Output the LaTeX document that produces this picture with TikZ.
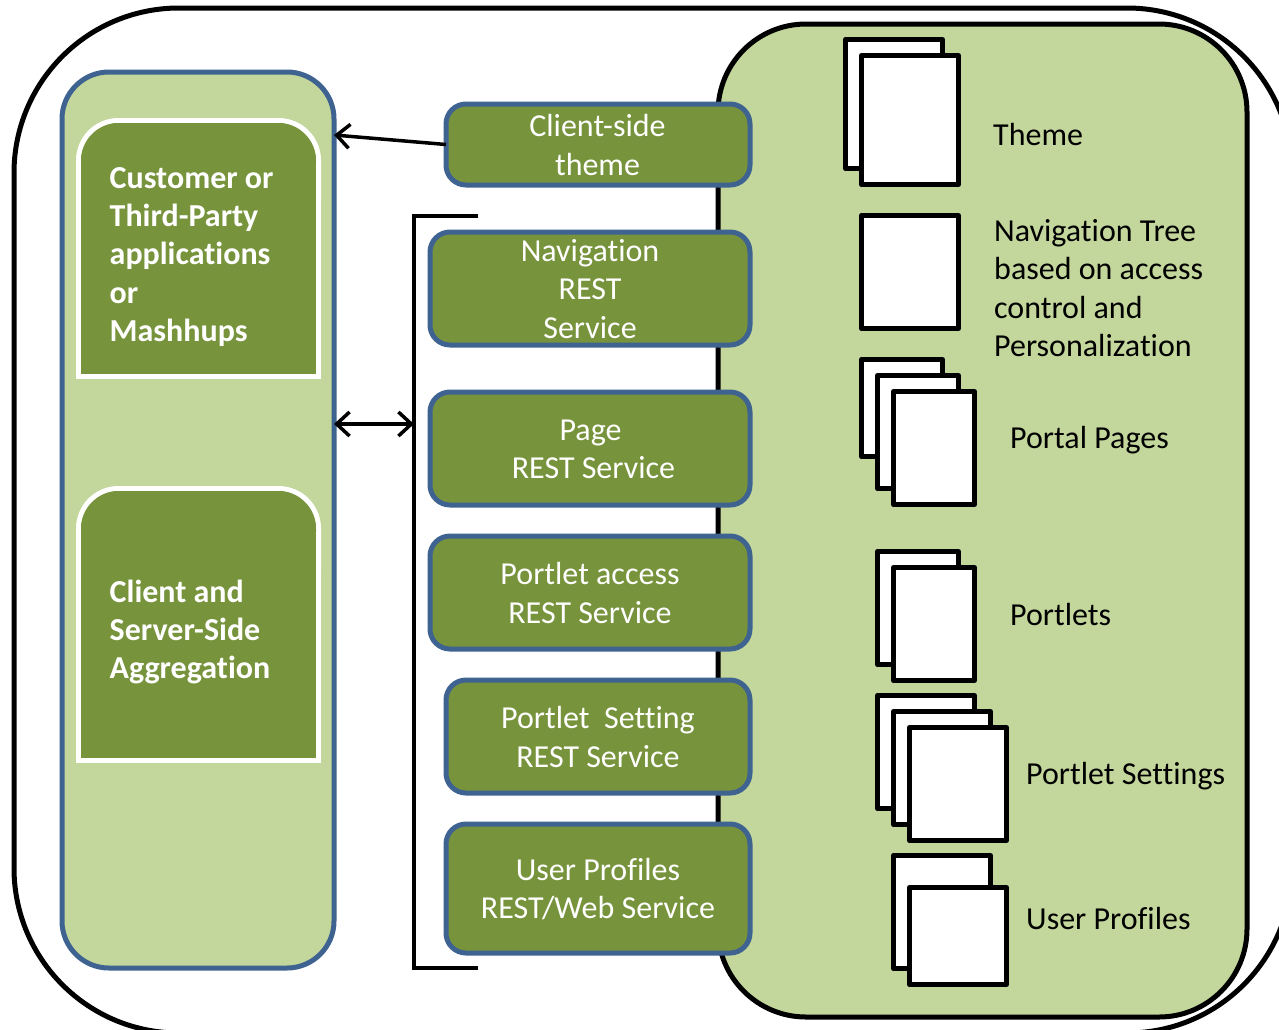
\documentclass[tikz,border=0pt]{standalone}
\usepackage{fontspec}
\setmainfont[Ligatures=NoCommon]{Carlito}
\usetikzlibrary{arrows.meta}

\definecolor{panelgreen}{HTML}{C3D69B}
\definecolor{boxgreen}{HTML}{77933C}
\definecolor{edgeblue}{HTML}{3F6391}

\tikzset{
    panel/.style={draw=edgeblue,line width=5pt,fill=panelgreen,rounded corners=47pt,outer sep=0pt},
    restbox/.style={draw=edgeblue,line width=5pt,fill=boxgreen,rounded corners=20pt,outer sep=0pt,
        text=white,align=center,inner sep=0pt},
    innerbox/.style={draw=white,line width=5pt,fill=boxgreen},
    innertext/.style={text=white,font=\bfseries\fontsize{32}{38.3}\selectfont,align=left,anchor=west,inner sep=0pt},
    docpage/.style={draw=black,line width=5pt,line join=round,fill=white,outer sep=0pt},
    doclabel/.style={text=black,align=left,anchor=west,inner sep=0pt},
    link/.style={draw=black,line width=3.5pt,{Straight Barb[length=13pt,width=24pt,line width=3.5pt]}-},
}

\begin{document}
\begin{tikzpicture}[x=1pt,y=-1pt,font=\fontsize{32}{38.3}\selectfont]

\useasboundingbox (0,0) rectangle (1279,1029);

% Outer frame, cut off by the page.
\begin{scope}
    \clip (0,0) rectangle (1279,1029);
    \draw[line width=5pt,rounded corners=165pt] (14,8) rectangle (1292,1033);
\end{scope}

% Right panel.
\node (right) [draw=black,line width=5pt,fill=panelgreen,rounded corners=88pt,outer sep=0pt,
    minimum width=529pt,minimum height=993pt] at (982.5,520.5) {};

% Left panel.
\node (left) [panel,minimum width=272pt,minimum height=896pt] at (198,520) {};

% Inner boxes, round on top only.
\draw[innerbox,rounded corners=40pt]
    (78.5,200) -- (78.5,120.5) -- (318.5,120.5) -- (318.5,200);
\draw[innerbox]
    (78.5,160) -- (78.5,376.5) -- (318.5,376.5) -- (318.5,160);
\fill[boxgreen,rounded corners=38pt]
    (81,200) -- (81,123) -- (316,123) -- (316,200) -- cycle;
\draw[innerbox,rounded corners=40pt]
    (78.5,570) -- (78.5,488.5) -- (318.5,488.5) -- (318.5,570);
\draw[innerbox]
    (78.5,530) -- (78.5,760.5) -- (318.5,760.5) -- (318.5,530);
\fill[boxgreen,rounded corners=38pt]
    (81,570) -- (81,491) -- (316,491) -- (316,570) -- cycle;

\node (customer) [innertext] at (109.5,257)
    {Customer or\\Third-Party\\applications\\or\\Mashhups};
\node (client) [innertext] at (109.5,632)
    {Client and\\Server-Side\\Aggregation};

% Service boxes.
\node (theme) [restbox,minimum width=304pt,minimum height=81pt] at (598,144.5) {};
\node (nav) [restbox,minimum width=320pt,minimum height=113pt] at (590,288.5) {};
\node (page) [restbox,minimum width=320pt,minimum height=113pt] at (590,448.5) {};
\node (access) [restbox,minimum width=320pt,minimum height=113pt] at (590,592.5) {};
\node (setting) [restbox,minimum width=304pt,minimum height=113pt] at (598,736.5) {};
\node (profile) [restbox,minimum width=304pt,minimum height=129pt] at (598,888.5) {};

% Service labels.
\node (themetext) [text=white,align=center] at (597.5,145) {Client-side\\theme};
\node (navtext) [text=white,align=center] at (590,289) {Navigation\\REST\\Service};
\node (pagetext) [text=white,align=center] at (593.5,449) {\hspace*{-6pt}Page\\REST Service};
\node (accesstext) [text=white,align=center] at (590,593) {Portlet access\\REST Service};
\node (settingtext) [text=white,align=center] at (598,737) {Portlet~ Setting\\REST Service};
\node (profiletext) [text=white,align=center] at (598,889) {User Profiles\\REST/Web Service};

% Bracket round the service boxes.
\coordinate (brackettop) at (478,216);
\coordinate (bracketmid) at (414,424);
\coordinate (bracketbot) at (478,968);
\coordinate (lefttop) at (334,135);
\coordinate (leftmid) at (334,424);
\draw[line width=3.5pt,line join=miter] (brackettop) -| (bracketmid) |- (bracketbot);

% Arrows.
\draw[link] (lefttop) -- (theme.west);
\draw[link,{Straight Barb[length=13pt,width=24pt,line width=3.5pt]}-{Straight Barb[length=13pt,width=24pt,line width=3.5pt]}]
    (leftmid) -- (bracketmid);

% Pages: name/centre x/centre y/width/height.
\foreach \n/\x/\y/\w/\h in {
    themeA/894/104/97/129,themeB/910/120/97/129,
    tree/910/272/97/113,
    pagesA/902/408/81/97,pagesB/918/432/81/113,pagesC/934/448/81/113,
    portA/918/608/81/113,portB/934/624/81/113,
    setA/926/752/97/113,setB/942/768/97/113,setC/958/784/97/113,
    userA/942/912/97/113,userB/958/936/97/97} {
    \node (\n) [docpage,minimum width=\w pt,minimum height=\h pt] at (\x,\y) {};
}

% Page labels.
\node (themelabel) [doclabel] at (993,134) {Theme};
\node (treelabel) [doclabel] at (994,288) {Navigation Tree\\based on access\\control and\\Personalization};
\node (pageslabel) [doclabel] at (1010,440) {Portal Pages};
\node (portlabel) [doclabel] at (1010,614) {Portlets};
\node (setlabel) [doclabel] at (1026,776) {Portlet Settings};
\node (userlabel) [doclabel] at (1026,918) {User Profiles};

\end{tikzpicture}
\end{document}
